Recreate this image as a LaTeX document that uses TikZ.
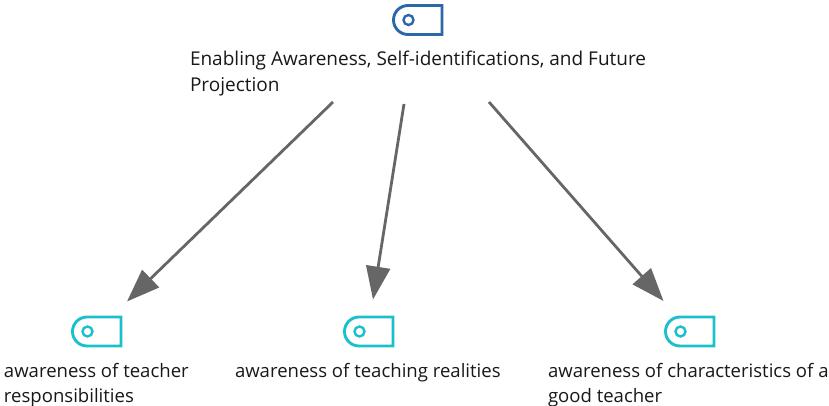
\documentclass[tikz,border=0pt]{standalone}
\usepackage{fontspec}
\setmainfont{Open Sans}
\usetikzlibrary{arrows.meta}
\definecolor{topblue}{HTML}{2B68A8}
\definecolor{leafcyan}{HTML}{1CBFCC}
\definecolor{linkgray}{HTML}{666666}
\definecolor{labelink}{HTML}{181818}
\tikzset{
  x=1pt,y=-1pt,
  lbl/.style={anchor=north west,inner sep=0pt,outer sep=0pt,align=left,text=labelink,font=\fontsize{18.55}{25.5}\selectfont},
  rootlbl/.style={lbl,font=\fontsize{19}{25.5}\selectfont},
  link/.style={draw=linkgray,line width=2.8pt,-{Triangle[length=33pt,width=24pt]}},
  pics/tagicon/.style={code={
    \draw[#1,line width=2.9pt,line join=miter] (48.5,0) -- (14.5,0) arc[start angle=-90,end angle=-270,radius=14.5] -- (48.5,29) -- cycle;
    \draw[#1,line width=2.4pt] (15,14.5) circle[radius=5];
  }}
}
\begin{document}
\begin{tikzpicture}
\useasboundingbox (0,0) rectangle (829,406);
\pic at (393.5,5.5) {tagicon=topblue};
\pic at (72.5,317) {tagicon=leafcyan};
\pic at (344.5,317) {tagicon=leafcyan};
\pic at (665.5,317) {tagicon=leafcyan};
\node[rootlbl] (root) at (190,51) {Enabling Awareness, Self-identifications, and Future\\Projection};
\node[lbl] (a) at (4,363) {awareness of teacher\\responsibilities};
\node[lbl] (b) at (235,363) {awareness of teaching realities};
\node[lbl] (c) at (548,363) {awareness of characteristics of a\\good teacher};
\coordinate (s1) at (333,102);
\coordinate (e1) at (127,301.5);
\coordinate (s2) at (404,104);
\coordinate (e2) at (373,299.5);
\coordinate (s3) at (489,102);
\coordinate (e3) at (663.5,301);
\draw[link] (s1) -- (e1);
\draw[link] (s2) -- (e2);
\draw[link] (s3) -- (e3);
\end{tikzpicture}
\end{document}
